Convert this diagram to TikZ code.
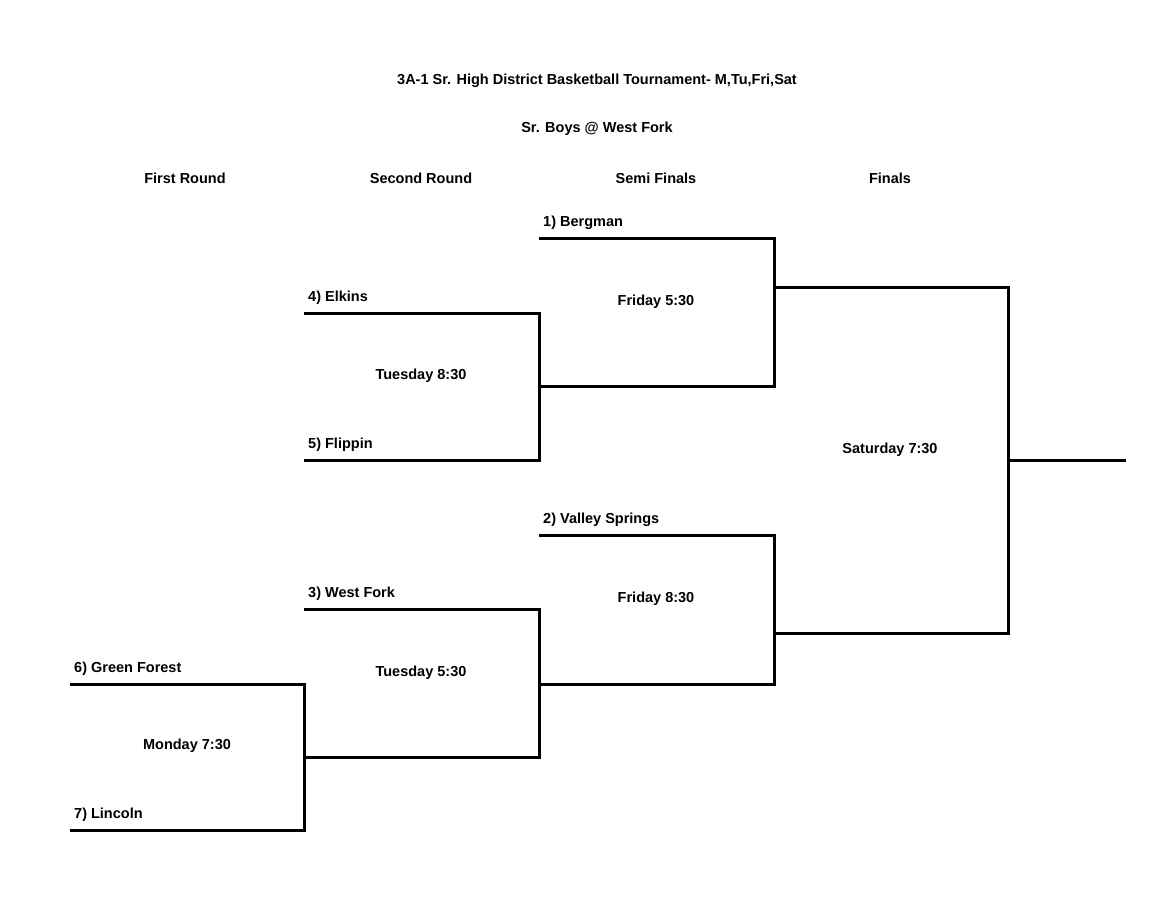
\documentclass[tikz,border=0pt]{standalone}
\usepackage{fontspec}
\setmainfont{Liberation Sans}
\usetikzlibrary{calc}
\begin{document}
\begin{tikzpicture}[x=1pt,y=-1pt,
    line/.style={line width=3pt},
    team/.style={anchor=south west,inner sep=0pt,font=\bfseries\fontsize{14.5}{16}\selectfont},
    label/.style={inner sep=0pt,font=\bfseries\fontsize{14.5}{16}\selectfont}]

    \useasboundingbox (0,0) rectangle (1170,921);

    % titles
    \node[label] (title)    at (597,81)  {3A-1 Sr. High District Basketball Tournament- M,Tu,Fri,Sat};
    \node[label] (subtitle) at (597,129) {Sr. Boys @ West Fork};

    \node[label] (first)  at (185,178) {First Round};
    \node[label] (second) at (421,178) {Second Round};
    \node[label] (semi)   at (656,178) {Semi Finals};
    \node[label] (final)  at (890,178) {Finals};

    % first round
    \coordinate (Green Forest) at (70,684);
    \coordinate (Lincoln)      at (70,830);
    \coordinate (Monday)       at (304,757);
    \draw[line] (Green Forest) -| (Monday) |- (Lincoln);
    \node[team] at ($(Green Forest)+(4,-8)$) {6) Green Forest};
    \node[team] at ($(Lincoln)+(4,-8)$)      {7) Lincoln};
    \node[label] at (187,746) {Monday 7:30};

    % second round
    \coordinate (West Fork)  at (304,609);
    \coordinate (Elkins)     at (304,313);
    \coordinate (Flippin)    at (304,460);
    \coordinate (Tue 530)    at (539,684);
    \coordinate (Tue 830)    at (539,386);
    \draw[line] (West Fork) -| (Tue 530) |- (Monday);
    \draw[line] (Elkins) -| (Tue 830) |- (Flippin);
    \node[team] at ($(West Fork)+(4,-8)$) {3) West Fork};
    \node[team] at ($(Elkins)+(4,-8)$)    {4) Elkins};
    \node[team] at ($(Flippin)+(4,-8)$)   {5) Flippin};
    \node[label] at (421,376) {Tuesday 8:30};
    \node[label] at (421,673) {Tuesday 5:30};

    % semi finals
    \coordinate (Bergman)        at (539,238);
    \coordinate (Valley Springs) at (539,535);
    \coordinate (Fri 530)        at (774,287);
    \coordinate (Fri 830)        at (774,633);
    \draw[line] (Bergman) -| (Fri 530) |- (Tue 830);
    \draw[line] (Valley Springs) -| (Fri 830) |- (Tue 530);
    \node[team] at ($(Bergman)+(4,-8)$)        {1) Bergman};
    \node[team] at ($(Valley Springs)+(4,-8)$) {2) Valley Springs};
    \node[label] at (656,302) {Friday 5:30};
    \node[label] at (656,599) {Friday 8:30};

    % finals
    \coordinate (Sat) at (1008,460);
    \coordinate (Champion) at (1126,460);
    \draw[line] (Fri 530) -| (Sat) |- (Fri 830);
    \draw[line] (Sat) -- (Champion);
    \node[label] at (890,450) {Saturday 7:30};
\end{tikzpicture}
\end{document}
